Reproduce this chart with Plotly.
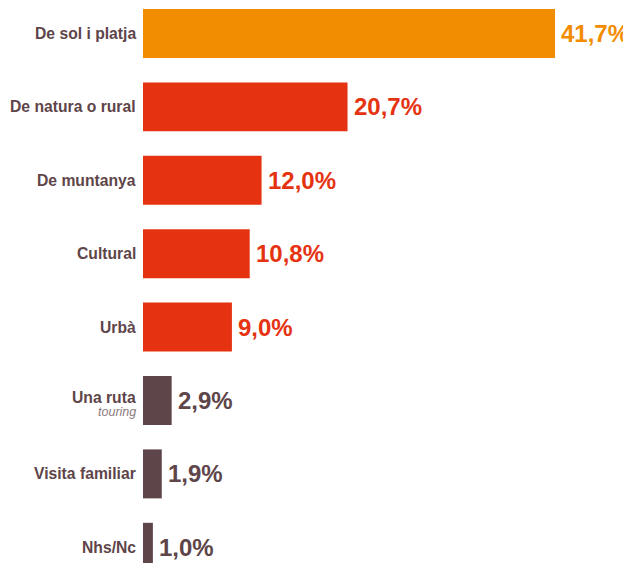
import plotly.graph_objects as go

categories = ["De sol i platja", "De natura o rural", "De muntanya", "Cultural", "Urbà",
              "Una ruta", "Visita familiar", "Nhs/Nc"]
sublabels = ["", "", "", "", "", "touring", "", ""]
values = [41.7, 20.7, 12.0, 10.8, 9.0, 2.9, 1.9, 1.0]
value_labels = ["41,7%", "20,7%", "12,0%", "10,8%", "9,0%", "2,9%", "1,9%", "1,0%"]

ORANGE = "#F28C00"
RED = "#E53312"
DARK = "#5E4549"
colors = [ORANGE, RED, RED, RED, RED, DARK, DARK, DARK]

FONT = "Liberation Sans"

fig = go.Figure()
fig.add_trace(go.Bar(
    y=categories, x=values, orientation="h",
    marker=dict(color=colors, line=dict(width=0)),
    width=0.667, hoverinfo="skip",
))

annotations = []
for cat, v, lab, c, sub in zip(categories, values, value_labels, colors, sublabels):
    annotations.append(dict(
        x=v, y=cat, xref="x", yref="y", text=f"<b>{lab}</b>", showarrow=False,
        xanchor="left", yanchor="middle", xshift=4, yshift=0,
        font=dict(family=FONT, size=24, color=c),
    ))
    if sub:
        annotations.append(dict(
            x=0, y=cat, xref="paper", yref="y", text=f"<b>{cat}</b>", showarrow=False,
            xanchor="right", yanchor="middle", xshift=-5, yshift=3,
            font=dict(family=FONT, size=15.7, color=DARK),
        ))
        annotations.append(dict(
            x=0, y=cat, xref="paper", yref="y", text=f"<i>{sub}</i>", showarrow=False,
            xanchor="right", yanchor="middle", xshift=-5, yshift=-12,
            font=dict(family=FONT, size=12.5, color="#8A7A7D"),
        ))
    else:
        annotations.append(dict(
            x=0, y=cat, xref="paper", yref="y", text=f"<b>{cat}</b>", showarrow=False,
            xanchor="right", yanchor="middle", xshift=-5,
            font=dict(family=FONT, size=15.7, color=DARK),
        ))

fig.update_layout(
    width=623, height=555,
    margin=dict(l=135, r=0, t=0, b=0),
    paper_bgcolor="white", plot_bgcolor="white",
    showlegend=False,
    xaxis=dict(range=[0, 49.39], visible=False, fixedrange=True),
    yaxis=dict(range=[7.214, -0.347], showticklabels=False, showgrid=False,
               zeroline=False, showline=False, ticks="", fixedrange=True,
               categoryorder="array", categoryarray=categories),
    annotations=annotations,
)

fig.write_html("out.html", config={"displayModeBar": False})
